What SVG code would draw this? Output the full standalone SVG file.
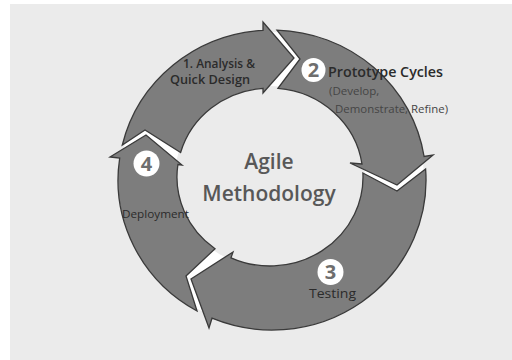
<svg xmlns="http://www.w3.org/2000/svg" width="512" height="360" viewBox="0 0 512 360">
  <style>
    .arrow { fill: #7d7d7d; stroke: #3a3a3a; stroke-width: 1.3; stroke-linejoin: miter; }
    .badge { fill: #ffffff; }
    .num { font-family: "Open Sans", "Noto Sans", sans-serif; font-weight: 700; font-size: 20px; fill: #6e6e6e; text-anchor: middle; }
    .lbl { font-family: "Open Sans", "Noto Sans", sans-serif; fill: #2b2b2b; }
    .sub { font-family: "Open Sans", "Noto Sans", sans-serif; fill: #454545; font-size: 11.5px; }
    .big { font-family: "Open Sans", "Noto Sans", sans-serif; font-weight: 600; font-size: 21px; fill: #585858; text-anchor: middle; }
  </style>
  <rect x="0" y="0" width="512" height="360" fill="#ffffff"/>
  <rect x="10" y="4" width="502" height="356" fill="#ebebeb"/>

  <g id="connectors">
    <path fill="#ffffff" fill-rule="evenodd" d="M 120,180 A 152 148 0 1 0 424,180 A 152 148 0 1 0 120,180 Z M 175,177 A 95 91 0 1 0 365,177 A 95 91 0 1 0 175,177 Z"/>
  </g>

  <g id="step1">
    <path class="arrow" d="M 122.3,145 A 154 150 0 0 1 263,30.3 L 263,22 L 294,58 L 263,93 L 263,88.3 A 93 89 0 0 0 180.6,152.5 L 145,130 Z"/>
    <text class="lbl" x="183" y="68" font-size="12.5" font-weight="600" textLength="72" lengthAdjust="spacingAndGlyphs">1. Analysis &amp;</text>
    <text class="lbl" x="170" y="84" font-size="12.5" font-weight="600" textLength="80" lengthAdjust="spacingAndGlyphs">Quick Design</text>
  </g>

  <g id="step2">
    <path class="arrow" d="M 277,30.1 A 154 150 0 0 1 424.1,156.5 L 433,155 L 397,185 L 350,163 L 362,164 A 93 89 0 0 0 278,88.3 L 300,59 Z"/>
    <circle class="badge" cx="313.5" cy="70" r="12"/>
    <text class="num" x="313.5" y="77">2</text>
    <text class="lbl" x="328" y="77" font-size="14" font-weight="600" textLength="115" lengthAdjust="spacingAndGlyphs">Prototype Cycles</text>
    <text class="sub" x="329" y="95">(Develop,</text>
    <text class="sub" x="335" y="113" textLength="113" lengthAdjust="spacingAndGlyphs">Demonstrate, Refine)</text>
  </g>

  <g id="step3">
    <path class="arrow" d="M 425.6,169 A 154 150 0 0 1 212,318.2 L 209,328 L 191,279 L 233,252 L 231,257.8 A 93 89 0 0 0 362.9,173 L 397,191 Z"/>
    <circle class="badge" cx="330.5" cy="272" r="13"/>
    <text class="num" x="330.5" y="279">3</text>
    <text class="lbl" x="309" y="298" font-size="13.5" textLength="47" lengthAdjust="spacingAndGlyphs">Testing</text>
  </g>

  <g id="step4">
    <path class="arrow" d="M 197,311 A 154 150 0 0 1 119.7,158 L 110,157 L 146,135 L 182,165 L 177.9,164.5 A 93 89 0 0 0 215,248.8 L 186,276 Z"/>
    <circle class="badge" cx="146.5" cy="163.5" r="13"/>
    <text class="num" x="146.5" y="170.5">4</text>
    <text class="lbl" x="122" y="218" font-size="11.5" textLength="67" lengthAdjust="spacingAndGlyphs">Deployment</text>
  </g>

  <g id="center">
    <text class="big" x="269" y="169">Agile</text>
    <text class="big" x="269" y="201">Methodology</text>
  </g>
</svg>
